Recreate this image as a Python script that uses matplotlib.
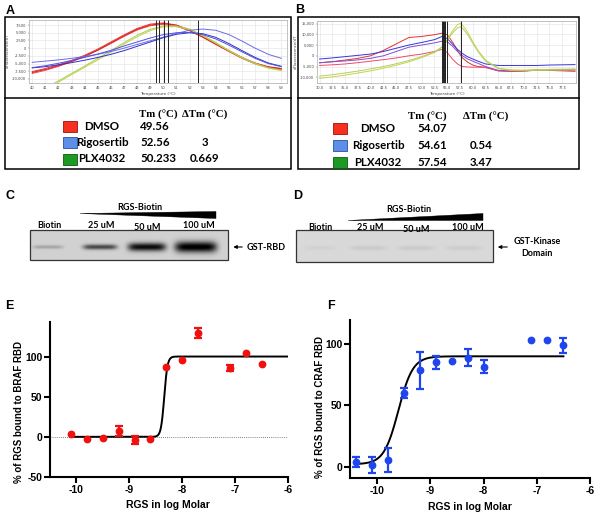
import matplotlib.pyplot as plt
import numpy as np
from matplotlib.patches import Rectangle, Polygon

plt.rcParams['axes.unicode_minus'] = False

W, H = 600, 520

# ---- panel A: thermal melt, dF/dT ----
a_temp = list(range(40, 60))
a_red = [
    [-7600, -6600, -5400, -4000, -2300, -300, 2000, 4300, 6400, 7800, 8200, 7500, 5900, 3800, 1500, -800, -3000, -4800, -6000, -6600],
    [-8200, -7200, -5900, -4400, -2700, -700, 1500, 3800, 5900, 7300, 7700, 7100, 5600, 3500, 1200, -1100, -3300, -5100, -6300, -6900],
    [-7900, -6900, -5700, -4300, -2600, -600, 1700, 4000, 6100, 7500, 8000, 7400, 5800, 3700, 1300, -1000, -3200, -5000, -6100, -6700],
]
a_blue = [
    [-4600, -4200, -3800, -3300, -2700, -2000, -1100, 0, 1200, 2400, 3600, 4800, 5800, 6200, 5800, 4400, 2300, 0, -2000, -3300],
    [-6400, -6000, -5400, -4700, -3900, -3000, -2000, -800, 600, 2000, 3400, 4500, 5000, 4700, 3500, 1500, -800, -3000, -4800, -5900],
    [-6300, -5700, -4900, -4000, -3000, -1900, -700, 700, 2000, 3300, 4400, 5000, 5100, 4400, 3000, 1000, -1200, -3300, -5000, -6000],
]
a_green = [
    [-15500, -13500, -11000, -8600, -6200, -3800, -1300, 1300, 3700, 5700, 6900, 7000, 6000, 4000, 1600, -900, -3200, -5100, -6500, -7300],
    [-15000, -13000, -10600, -8200, -5800, -3300, -800, 1800, 4200, 6100, 7200, 7200, 6200, 4200, 1800, -700, -3000, -4900, -6300, -7100],
]
a_tm_lines = [49.43, 49.7, 50.06, 50.39, 52.63]
a_yticks = [7500, 5000, 2500, 0, -2500, -5000, -7500, -10000]

# ---- panel B ----
b_temp = [30, 32.5, 35, 37.5, 40, 42.5, 45, 47.5, 50, 52.5, 54, 55, 56, 57, 57.5, 58, 59, 60, 61, 62.5, 65, 67.5, 70, 72.5, 75, 77.5, 80]
b_red = [
    [-3300, -2700, -2000, -1200, 0, 2500, 5500, 8500, 9000, 9800, 10500, 9800, 6500, 2500, 500, -1000, -3000, -4300, -5000, -5300, -7000, -7300, -7200, -6500, -6800, -7000, -7200],
    [-4500, -4200, -3800, -3200, -2500, -1800, -1000, 0, 800, 2000, 3000, 1500, -1500, -3800, -4500, -5000, -5200, -5300, -5300, -5500, -7000, -7200, -7000, -6800, -6500, -6800, -7000],
]
b_blue = [
    [-1500, -1000, -400, 200, 800, 2000, 3500, 5000, 6200, 7500, 9000, 8000, 5500, 3000, 2000, 1000, -500, -1500, -2500, -3800, -4500, -4500, -4500, -4500, -4300, -4200, -4100],
    [-3200, -2800, -2400, -1900, -1200, 0, 2000, 4000, 5000, 6000, 6800, 6500, 4500, 2000, 1000, 0, -1500, -2500, -3500, -5000, -6800, -7000, -6800, -6700, -6600, -6500, -6400],
]
b_green = [
    [-10500, -9800, -9000, -8000, -7000, -5800, -4400, -2800, -800, 1500, 4000, 7500, 11500, 14500, 15000, 14200, 11000, 6500, 2500, -2000, -5800, -6500, -6700, -6500, -6300, -6200, -6100],
    [-9500, -8800, -8000, -7100, -6100, -5000, -3700, -2200, -400, 1800, 4200, 7200, 10500, 13000, 13500, 12800, 9800, 5800, 2000, -2500, -6000, -6800, -7000, -6800, -6700, -6600, -6500],
]
b_tm_lines = [53.9, 54.1, 54.3, 54.5, 54.65, 54.95, 57.6]
b_xticks = [30 + 2.5 * i for i in range(20)]
b_yticks = [15000, 10000, 5000, 0, -5000, -10000]

# ---- tables ----
drugs = ['DMSO', 'Rigosertib', 'PLX4032']
swatch = ['#f5301e', '#5b8fe8', '#1c9a24']
swatch_edge = ['#a01010', '#2b4f9a', '#0e5a12']
tm_a = ['49.56', '52.56', '50.233']
dtm_a = ['', '3', '0.669']
tm_b = ['54.07', '54.61', '57.54']
dtm_b = ['', '0.54', '3.47']

# ---- gels (lane band darkness) ----
lanes = ['Biotin', '25 uM', '50 uM', '100 uM']
c_dark = [0.18, 0.55, 0.78, 0.85]
d_dark = [0.03, 0.06, 0.06, 0.05]

# ---- panel E / F binding data ----
e_x = [-10.1, -9.8, -9.5, -9.2, -8.9, -8.6, -8.3, -8.0, -7.7, -7.1, -6.8, -6.5]
e_y = [3, -3, -1, 7, -4, -3, 87.5, 96, 129, 85.5, 105, 90.5]
e_err = [0, 0, 0, 6, 5, 0, 0, 0, 6.5, 4, 0, 0]
e_fit = dict(bottom=0, top=100, logkd=-8.34, hill=14, x0=-10.1, x1=-6.0)

f_x = [-10.4, -10.1, -9.8, -9.5, -9.2, -8.9, -8.6, -8.3, -8.0, -7.1, -6.8, -6.5]
f_y = [4, 1.5, 5.5, 60, 78.5, 85, 86.5, 89, 81.5, 103.5, 103, 99]
f_err = [4, 6.5, 10, 4, 15, 5.5, 0, 7, 5.5, 0, 0, 6]
f_fit = dict(bottom=2, top=90, logkd=-9.6, hill=3.2, x0=-10.4, x1=-6.5)


fig = plt.figure(figsize=(6, 5.2), dpi=100)


def rect(x0, y0, x1, y1):
    return [x0 / W, 1 - y1 / H, (x1 - x0) / W, (y1 - y0) / H]


bg = fig.add_axes([0, 0, 1, 1])
bg.axis('off')

sans = 'Liberation Sans'
cal = 'Lato'

# panel letters
for s, x, y in [('A', 10, 11), ('B', 300, 10), ('C', 10, 196), ('D', 298, 196), ('E', 9, 306), ('F', 331, 306)]:
    bg.text(x, y, s, fontsize=9, fontweight='bold', family=sans, ha='center', va='center')

# boxes around A and B
for x0, x1 in [(5, 291), (298, 579)]:
    bg.add_patch(Rectangle((x0, 17), x1 - x0, 152, fill=False, ec='k', lw=1.1))
    bg.plot([x0, x1], [98, 98], color='k', lw=1.1)


def melt(pos, temps, groups, tm_lines, xlim, ylim, xticks, xfmt, yticks):
    ax = fig.add_axes(rect(*pos))
    for curves, cols in groups:
        for c, col in zip(curves, cols):
            ax.plot(temps, c, color=col, lw=0.7)
    for t in tm_lines:
        ax.axvline(t, color='#222222', lw=0.7)
    ax.set_xlim(*xlim)
    ax.set_ylim(*ylim)
    ax.set_xticks(xticks)
    ax.set_xticklabels([xfmt(t) for t in xticks], fontsize=2.6)
    ax.set_yticks(yticks)
    ax.set_yticklabels([f'{v:,}' for v in yticks], fontsize=2.6)
    ax.tick_params(length=1, width=0.3, pad=1, colors='#444444')
    ax.grid(color='#e2e2e2', lw=0.4)
    ax.set_axisbelow(True)
    for sp in ax.spines.values():
        sp.set_color('#aaaaaa')
        sp.set_linewidth(0.5)
    ax.set_xlabel('Temperature (°C)', fontsize=3, labelpad=1.5, color='#444444')
    ax.set_ylabel('dFluorescence/dT', fontsize=2.8, labelpad=1.5, color='#444444')
    return ax


melt((29, 19.5, 287, 83), a_temp,
     [(a_red, ['#e83030', '#f05050', '#d82020']),
      (a_green, ['#c8d24a', '#a8cf55']),
      (a_blue, ['#6a6af0', '#3030d0', '#5050e0'])],
     a_tm_lines, (39.75, 59.43), (-11300, 9300), list(range(40, 60)), lambda t: f'{t}', a_yticks)

melt((317, 20.5, 576, 83), b_temp,
     [(b_red, ['#e83030', '#f04a6a']),
      (b_blue, ['#3535e0', '#8050d0']),
      (b_green, ['#c8d24a', '#b0d060'])],
     b_tm_lines, (29.5, 80.2), (-12650, 16400), b_xticks, lambda t: f'{t:.1f}', b_yticks)


def table(hx_tm, hx_dtm, hy, rows_y, sq_x, name_x, tm_x, dtm_x, tms, dtms):
    bg.text(hx_tm, hy, 'Tm (°C)', family='Liberation Serif', fontweight='bold', fontsize=7.8, ha='left', va='center')
    bg.text(hx_dtm, hy, 'ΔTm (°C)', family='Liberation Serif', fontweight='bold', fontsize=7.8, ha='left', va='center')
    for i, d in enumerate(drugs):
        y = rows_y[i]
        bg.add_patch(Rectangle((sq_x, y - 5.5), 14, 11, fc=swatch[i], ec=swatch_edge[i], lw=0.6))
        bg.text(name_x, y, d, family=cal, fontweight='bold', fontsize=8.3, ha='center', va='center')
        bg.text(tm_x, y, tms[i], family=cal, fontweight='bold', fontsize=8.3, ha='left', va='center')
        bg.text(dtm_x, y, dtms[i], family=cal, fontweight='bold', fontsize=8.3, ha='center', va='center')


table(139, 182, 115, [126, 142, 159], 63, 102, 140, 205, tm_a, dtm_a)
table(408, 463, 117, [128, 145.5, 162], 333, 378, 417, 481, tm_b, dtm_b)


def gel(x0, x1, y0, y1, shade, lane_x, dark, half_w, half_h, yc):
    xs = np.linspace(x0, x1, 400)
    ys = np.linspace(y0, y1, 90)
    X, Y = np.meshgrid(xs, ys)
    img = np.full(X.shape, shade)
    for cx, d, w, h in zip(lane_x, dark, half_w, half_h):
        img -= d * np.exp(-((X - cx) / w) ** 6 - ((Y - yc) / h) ** 2)
    bg.imshow(img, cmap='gray', vmin=0, vmax=1, extent=(x0, x1, y1, y0), aspect='auto', interpolation='bilinear')
    bg.add_patch(Rectangle((x0, y0), x1 - x0, y1 - y0, fill=False, ec='#333333', lw=0.9))


# panel C
gel(30, 228, 230, 260, 0.82, [48, 100, 147, 196], c_dark, [15, 17, 19, 21], [1.8, 2.6, 4.2, 5.5], 247)
bg.add_patch(Polygon([(80, 213.5), (216, 211.5), (216, 218.5)], closed=True, fc='k', ec='k', lw=0.3))
bg.text(140, 207.5, 'RGS-Biotin', family=cal, fontweight='bold', fontsize=6.5, ha='center', va='center')
for s, x, y in zip(lanes, [49, 101, 147, 199], [226, 226, 227, 226]):
    bg.text(x, y, s, family=cal, fontweight='bold', fontsize=6.5, ha='center', va='center')
bg.annotate('', xy=(230.5, 247), xytext=(245, 247),
            arrowprops=dict(arrowstyle='-|>', color='k', lw=0.8, mutation_scale=5))
bg.text(247, 247, 'GST-RBD', family=cal, fontweight='bold', fontsize=6.5, ha='left', va='center')

# panel D
gel(296, 493, 230, 262, 0.85, [320, 368, 416, 464], d_dark, [16, 18, 18, 18], [2.2, 2.2, 2.2, 2.2], 248)
bg.add_patch(Polygon([(348, 220.5), (483, 213.5), (483, 220.5)], closed=True, fc='k', ec='k', lw=0.3))
bg.text(409, 209, 'RGS-Biotin', family=cal, fontweight='bold', fontsize=6.5, ha='center', va='center')
for s, x, y in zip(lanes, [320, 370, 416, 468], [228, 228, 229, 227]):
    bg.text(x, y, s, family=cal, fontweight='bold', fontsize=6.5, ha='center', va='center')
bg.annotate('', xy=(495, 247), xytext=(510, 247),
            arrowprops=dict(arrowstyle='-|>', color='k', lw=0.8, mutation_scale=5))
bg.text(537, 241, 'GST-Kinase', family=cal, fontweight='bold', fontsize=6.5, ha='center', va='center')
bg.text(537, 253, 'Domain', family=cal, fontweight='bold', fontsize=6.5, ha='center', va='center')


def binding(pos, xs, ys, errs, fit, color, xlim, ylim, yticks, kd_text, kd_xy, ylabel, ylab_xy, xlab_xy, zero_line):
    ax = fig.add_axes(rect(*pos))
    xx = np.linspace(fit['x0'], fit['x1'], 600)
    yy = fit['bottom'] + (fit['top'] - fit['bottom']) / (1 + 10 ** ((fit['logkd'] - xx) * fit['hill']))
    if zero_line:
        ax.axhline(0, color='#555555', lw=0.6, ls=(0, (1, 1.5)))
    ax.plot(xx, yy, color='k', lw=1.4, zorder=2)
    xs, ys, errs = np.array(xs), np.array(ys), np.array(errs)
    m = errs > 0
    ax.errorbar(xs[m], ys[m], yerr=errs[m], fmt='none', ecolor=color, elinewidth=1.6, capsize=3, capthick=1.6, zorder=3)
    ax.plot(xs, ys, 'o', color=color, ms=4.6, zorder=4)
    ax.set_xlim(*xlim)
    ax.set_ylim(*ylim)
    ax.set_xticks([-10, -9, -8, -7, -6])
    ax.set_yticks(yticks)
    for sp in ['top', 'right']:
        ax.spines[sp].set_visible(False)
    for sp in ['left', 'bottom']:
        ax.spines[sp].set_linewidth(1.5)
    ax.tick_params(direction='out', length=4, width=1.5, pad=1.5)
    for lab in ax.get_xticklabels() + ax.get_yticklabels():
        lab.set_fontweight('bold')
        lab.set_fontsize(7.5)
        lab.set_family(sans)
    bg.text(kd_xy[0], kd_xy[1], kd_text, family=sans, fontweight='bold', fontsize=7.3, ha='left', va='center')
    bg.text(ylab_xy[0], ylab_xy[1], ylabel, family=sans, fontweight='bold', fontsize=7, rotation=90, ha='center', va='center')
    bg.text(xlab_xy[0], xlab_xy[1], 'RGS in log Molar', family=sans, fontweight='bold', fontsize=7.5, ha='center', va='center')
    return ax


binding((50, 322, 288, 477), e_x, e_y, e_err, e_fit, '#f01010', (-10.5, -6), (-50, 143), [-50, 0, 50, 100],
        'Kd = 0.71nm', (181, 403), '% of RGS bound to BRAF RBD', (19, 412), (168, 505), True)
binding((350, 320, 590, 478), f_x, f_y, f_err, f_fit, '#1f45ee', (-10.51, -6), (-9.2, 119.6), [0, 50, 100],
        'Kd = 0.18 nm', (437, 405), '% of RGS bound to CRAF RBD', (320, 407), (470, 507), False)

bg.set_xlim(0, W)
bg.set_ylim(H, 0)

fig.savefig('out.png', dpi=100)
